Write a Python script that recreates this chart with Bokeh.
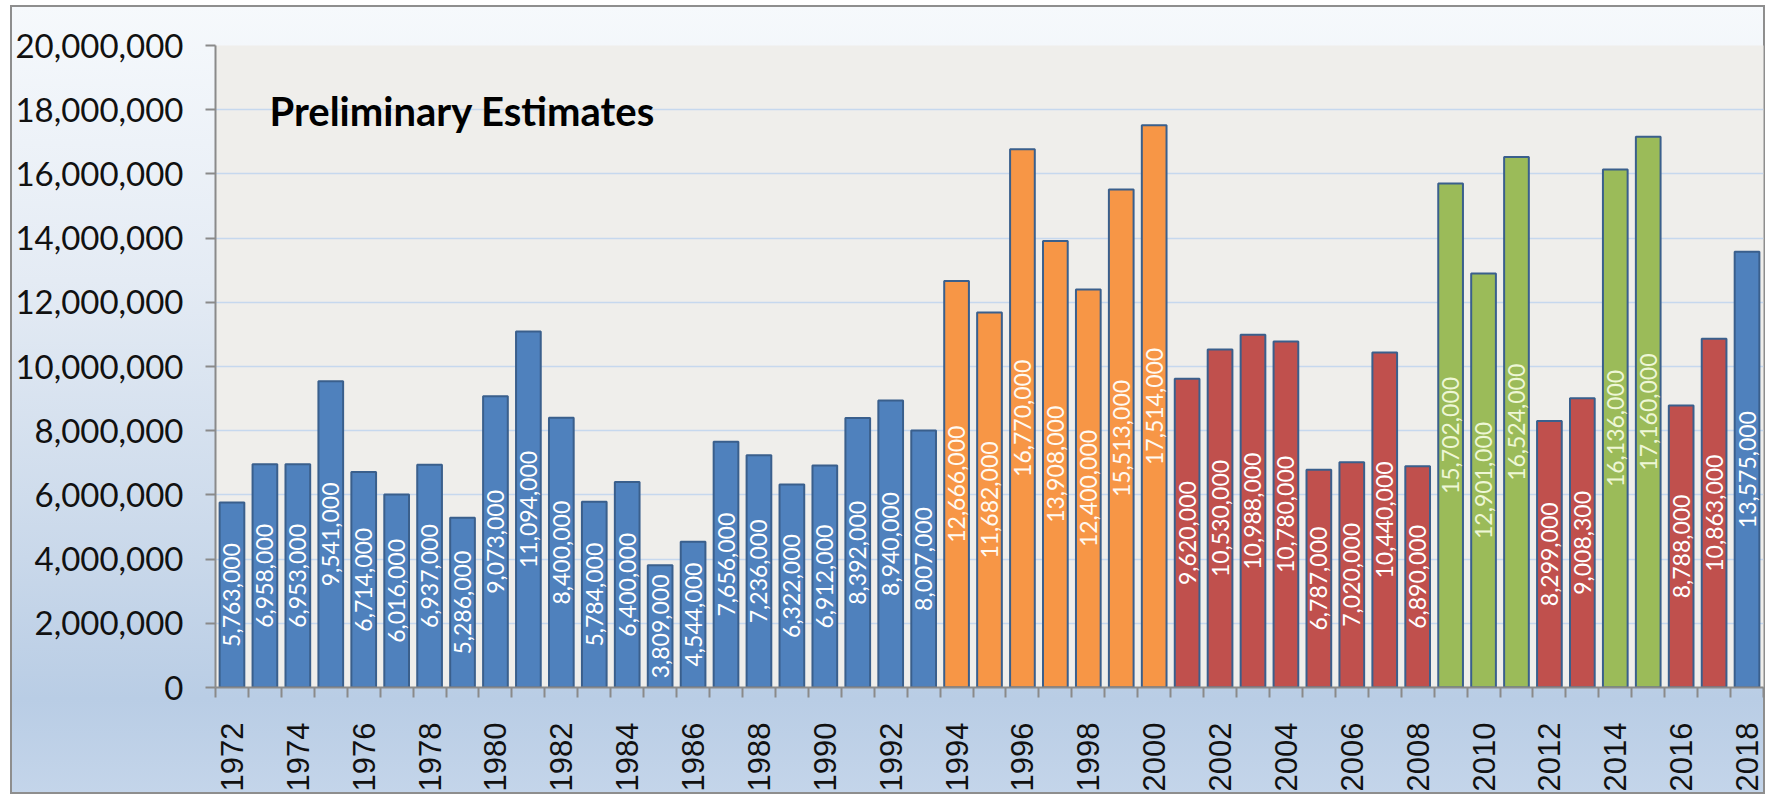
import math
from bokeh.plotting import figure
from bokeh.models import ColumnDataSource, FixedTicker, NumeralTickFormatter, Label, Range1d
from bokeh.core.properties import value
from bokeh.embed import file_html
from bokeh.resources import INLINE

years = list(range(1972, 2019))
values = [5763000, 6958000, 6953000, 9541000, 6714000, 6016000, 6937000, 5286000,
          9073000, 11094000, 8400000, 5784000, 6400000, 3809000, 4544000, 7656000,
          7236000, 6322000, 6912000, 8392000, 8940000, 8007000,
          12666000, 11682000, 16770000, 13908000, 12400000, 15513000, 17514000,
          9620000, 10530000, 10988000, 10780000, 6787000, 7020000, 10440000, 6890000,
          15702000, 12901000, 16524000,
          8299000, 9008300,
          16136000, 17160000,
          8788000, 10863000,
          13575000]
groups = (["blue"] * 22 + ["orange"] * 7 + ["red"] * 8 + ["green"] * 3 +
          ["red"] * 2 + ["green"] * 2 + ["red"] * 2 + ["blue"])
y_ticks = list(range(0, 20000001, 2000000))
x_label_years = list(range(1972, 2019, 2))

fill_map = {"blue": "#4f81bd", "orange": "#f79646", "red": "#c0504d", "green": "#9bbb59"}
text_map = {"blue": "#ffffff", "orange": "#fffaf2", "red": "#ffffff", "green": "#eef7d6"}

src = ColumnDataSource(dict(
    x=years,
    top=values,
    mid=[v / 2 for v in values],
    fill=[fill_map[g] for g in groups],
    tcol=[text_map[g] for g in groups],
    label=[f"{v:,}" for v in values],
))

p = figure(width=1755, height=789, output_backend="svg", toolbar_location=None,
           x_range=Range1d(1971.5, 2018.5), y_range=Range1d(0, 20000000),
           min_border_left=205, min_border_right=2, min_border_top=40, min_border_bottom=107)

p.border_fill_color = None
p.styles = {"background": "linear-gradient(to bottom, #f6f9fc 0%, #e4ebf4 35%, #c9d8ea 70%, #b9cde5 88%, #c4d5ea 100%)",
            "box-shadow": "inset 0 0 0 2px #8e8e8e",
            "margin-left": "10px", "margin-top": "5px"}
p.background_fill_color = "#efeeeb"
p.outline_line_color = None

p.vbar(x="x", top="top", width=0.75, bottom=0, source=src, fill_color="fill",
       line_color="#3a5f8c", line_width=2)

p.text(x="x", y="mid", text="label", source=src, angle=math.pi / 2,
       text_align="center", text_baseline="middle", text_color="tcol",
       text_font=value("Lato"), text_font_size="23px")

p.xgrid.grid_line_color = None
p.ygrid.grid_line_color = "#c6d8ee"
p.ygrid.grid_line_width = 1.5
p.ygrid.ticker = FixedTicker(ticks=y_ticks)

yax = p.yaxis[0]
yax.ticker = FixedTicker(ticks=y_ticks)
yax.formatter = NumeralTickFormatter(format="0,0")
yax.major_label_text_font = "Lato"
yax.major_label_text_font_size = "33px"
yax.major_label_text_color = "#111111"
yax.major_tick_out = 10
yax.major_tick_in = 0
yax.minor_tick_out = 0
yax.minor_tick_in = 0
yax.major_label_standoff = 22
yax.axis_line_color = "#8a8a8a"
yax.axis_line_width = 2
yax.major_tick_line_color = "#8a8a8a"
yax.major_tick_line_width = 2

xax = p.xaxis[0]
xax.ticker = FixedTicker(ticks=x_label_years,
                         minor_ticks=[y - 0.5 for y in years] + [years[-1] + 0.5])
xax.major_label_orientation = math.pi / 2
xax.major_label_text_font = "Liberation Sans"
xax.major_label_text_font_size = "31px"
xax.major_label_text_color = "#111111"
xax.major_tick_out = 0
xax.major_tick_in = 0
xax.minor_tick_out = 10
xax.minor_tick_in = 0
xax.minor_tick_line_color = "#8a8a8a"
xax.minor_tick_line_width = 2
xax.major_label_standoff = 25
xax.axis_line_color = "#8a8a8a"
xax.axis_line_width = 2

p.add_layout(Label(x=1973.14, y=17950000, text="Preliminary Estimates",
                   text_font="Lato", text_font_style="bold", text_font_size="40px",
                   text_color="#000000", text_baseline="alphabetic"))

open("out.html", "w").write(file_html(p, INLINE))
